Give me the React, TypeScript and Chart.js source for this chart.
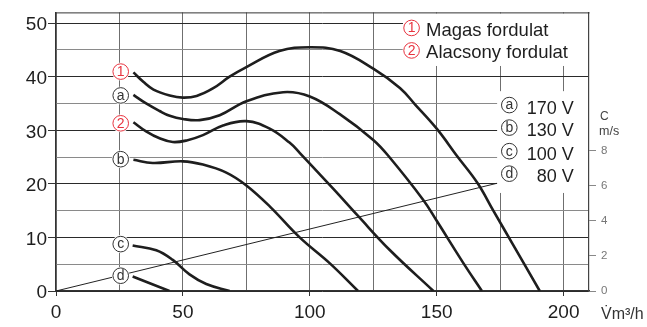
import { useEffect, useRef } from 'react';
import { Chart, registerables } from 'chart.js';

Chart.register(...registerables);

const FONT = '"Liberation Sans", Arial, Helvetica, sans-serif';

// Curve data (flow m3/h -> pressure Pa)
const curve1X = [30.5, 34.5, 38.4, 44.8, 50, 55.4, 61.8, 68.4, 75, 88, 100, 112, 125, 135.5, 141.5, 150, 158, 166, 172.3, 180, 190.6];
const curve1Y = [40.8, 39.0, 37.6, 36.5, 36.1, 36.4, 37.8, 40.0, 41.8, 44.8, 45.5, 44.8, 41.5, 37.9, 34.8, 30.3, 25.2, 20.2, 15.0, 8.7, 0];

const curveAX = [30.5, 35.5, 40.8, 44.8, 50, 56.6, 64.5, 75, 89.5, 100, 111.8, 125, 131, 144.7, 150, 160.5, 167.8];
const curveAY = [36.6, 35.0, 33.6, 32.7, 32.1, 31.9, 32.8, 35.4, 37.1, 36.3, 33.0, 28.2, 25.2, 17.0, 13.1, 5.2, 0];

const curve2X = [30.5, 35.5, 40.8, 46, 51.5, 57.9, 65.8, 75, 84.2, 92, 96, 109.2, 119, 131.6, 148.7];
const curve2Y = [31.5, 29.8, 28.5, 27.8, 28.1, 29.1, 30.9, 31.7, 30.3, 27.7, 25.8, 19.1, 14.0, 7.6, 0];

const curveBX = [30.5, 38.1, 50, 57.9, 67.1, 75, 84.2, 96, 107.8, 119];
const curveBY = [24.5, 23.9, 24.2, 23.6, 22.1, 19.7, 15.8, 10.0, 5.2, 0];

const curveCX = [30.2, 39.5, 46, 52.6, 59.2, 68.4];
const curveCY = [8.5, 7.6, 5.8, 3.1, 1.3, 0];

const curveDX = [30.2, 44.7];
const curveDY = [2.7, 0];

// Air velocity line
const velX = [0, 173.7];
const velY = [0, 20.1];

// Axis ticks
const xTicks = [0, 25, 50, 75, 100, 125, 150, 175, 200];
const yTicks = [0, 5, 10, 15, 20, 25, 30, 35, 40, 45, 50];
const cTicks = [0, 2, 4, 6, 8];

// Labels
const leftLabelText = ['1', 'a', '2', 'b', 'c', 'd'];
const leftLabelRed = [true, false, true, false, false, false];
const leftLabelY = [40.95, 36.5, 31.3, 24.6, 8.75, 2.85];
const leftLabelX = 25.5;

const rightLabelText = ['a', 'b', 'c', 'd'];
const rightLabelValue = ['170 V', '130 V', '100 V', '80 V'];
const rightLabelY = [34.7, 30.5, 26.1, 21.9];
const rightLabelX = 178.6;

const legendText = ['Magas fordulat', 'Alacsony fordulat'];
const legendNum = ['1', '2'];
const legendY = [49.1, 44.9];
const legendX = 140.1;

const RED = '#e8333f';
const INK = '#1e1e1e';

const pts = (xs: number[], ys: number[]) => xs.map((x, i) => ({ x, y: ys[i] }));

function circ(ctx: CanvasRenderingContext2D, cx: number, cy: number, t: string, color: string) {
  ctx.beginPath();
  ctx.arc(cx, cy, 9, 0, Math.PI * 2);
  ctx.fillStyle = '#fff';
  ctx.fill();
  ctx.beginPath();
  ctx.arc(cx, cy, 7.8, 0, Math.PI * 2);
  ctx.lineWidth = 1;
  ctx.strokeStyle = color;
  ctx.stroke();
  ctx.fillStyle = color;
  ctx.font = `14px ${FONT}`;
  ctx.textAlign = 'center';
  ctx.textBaseline = 'middle';
  ctx.fillText(t, cx, cy + 0.5);
}

const overlay = {
  id: 'overlay',
  beforeDatasetsDraw(chart: any) {
    const { ctx, chartArea: a, scales } = chart;
    const x = scales.x;
    const y = scales.y;
    ctx.save();
    ctx.fillStyle = '#fff';
    const lx = x.getPixelForValue(136.7);
    const ly = y.getPixelForValue(42);
    ctx.fillRect(lx, a.top + 1, a.right - 1 - lx, ly - a.top - 1);
    const rx = x.getPixelForValue(173.8);
    const rt = y.getPixelForValue(37.3);
    const rb = y.getPixelForValue(18.3);
    ctx.fillRect(rx, rt, a.right - 1 - rx, rb - rt);
    ctx.strokeStyle = '#333';
    ctx.lineWidth = 1;
    ctx.beginPath();
    ctx.moveTo(a.left, a.top + 0.5);
    ctx.lineTo(a.right + 0.5, a.top + 0.5);
    ctx.stroke();
    ctx.restore();
  },
  afterDatasetsDraw(chart: any) {
    const { ctx, scales } = chart;
    const x = scales.x;
    const y = scales.y;
    ctx.save();
    leftLabelText.forEach((t, i) => {
      circ(ctx, x.getPixelForValue(leftLabelX), y.getPixelForValue(leftLabelY[i]), t, leftLabelRed[i] ? RED : '#333');
    });
    rightLabelText.forEach((t, i) => {
      const cy = y.getPixelForValue(rightLabelY[i]);
      circ(ctx, x.getPixelForValue(rightLabelX), cy, t, '#333');
      ctx.fillStyle = INK;
      ctx.font = `18px ${FONT}`;
      ctx.textAlign = 'right';
      ctx.textBaseline = 'alphabetic';
      ctx.fillText(rightLabelValue[i], x.getPixelForValue(204), cy + 8.7);
    });
    legendText.forEach((t, i) => {
      const cy = y.getPixelForValue(legendY[i]);
      circ(ctx, x.getPixelForValue(legendX), cy, legendNum[i], RED);
      ctx.fillStyle = INK;
      ctx.font = `18.5px ${FONT}`;
      ctx.textAlign = 'left';
      ctx.textBaseline = 'alphabetic';
      ctx.fillText(t, x.getPixelForValue(145.8), cy + 7.7);
    });
    // axis titles
    ctx.fillStyle = '#333';
    ctx.textAlign = 'left';
    ctx.textBaseline = 'alphabetic';
    ctx.font = `16px ${FONT}`;
    ctx.fillText('V\u0307m\u00b3/h', 601, 318.5);
    ctx.fillStyle = '#444';
    ctx.font = `12px ${FONT}`;
    ctx.fillText('C', 600, 120);
    ctx.font = `12.5px ${FONT}`;
    ctx.fillText('m/s', 599, 135);
    ctx.restore();
  },
};

export default function App() {
  const ref = useRef<HTMLCanvasElement>(null);
  useEffect(() => {
    document.body.style.margin = '0';
    const curve = (xs: number[], ys: number[]) => ({
      data: pts(xs, ys),
      borderColor: INK,
      borderWidth: 2.6,
      pointRadius: 0,
      fill: false,
      tension: 0.4,
    });
    const chart = new Chart(ref.current as HTMLCanvasElement, {
      type: 'line',
      data: {
        datasets: [
          curve(curve1X, curve1Y),
          curve(curveAX, curveAY),
          curve(curve2X, curve2Y),
          curve(curveBX, curveBY),
          curve(curveCX, curveCY),
          curve(curveDX, curveDY),
          {
            data: pts(velX, velY),
            borderColor: '#222',
            borderWidth: 1,
            pointRadius: 0,
            fill: false,
            tension: 0,
          },
        ],
      },
      options: {
        responsive: false,
        animation: false,
        events: [],
        layout: { padding: { top: 5, left: 0, right: 0, bottom: 0 } },
        plugins: { legend: { display: false }, tooltip: { enabled: false } },
        scales: {
          x: {
            type: 'linear',
            min: 0,
            max: 210,
            afterBuildTicks: (s: any) => {
              s.ticks = xTicks.map((v) => ({ value: v }));
            },
            afterFit: (s: any) => {
              s.height = 36;
            },
            grid: {
              color: '#6f6f6f',
              lineWidth: 1,
              drawTicks: true,
              tickLength: 5,
              tickColor: (c: any) => (c.tick && c.tick.value % 50 === 0 ? '#333' : 'rgba(0,0,0,0)'),
            },
            border: { display: true, color: '#333', width: 1.2 },
            ticks: {
              autoSkip: false,
              maxRotation: 0,
              padding: 5,
              color: INK,
              font: { family: FONT, size: 19 },
              callback: (v: any) => (Number(v) % 50 === 0 ? String(v) : ''),
            },
          },
          y: {
            type: 'linear',
            min: 0,
            max: 52,
            afterBuildTicks: (s: any) => {
              s.ticks = yTicks.map((v) => ({ value: v }));
            },
            afterFit: (s: any) => {
              s.width = 56;
            },
            grid: {
              color: (c: any) => (c.tick && c.tick.value % 10 === 0 ? '#2a2a2a' : '#8a8a8a'),
              lineWidth: 1,
              drawTicks: true,
              tickLength: 8,
              tickColor: (c: any) => (c.tick && c.tick.value % 10 === 0 ? '#333' : 'rgba(0,0,0,0)'),
            },
            border: { display: true, color: '#333', width: 1.2 },
            ticks: {
              autoSkip: false,
              padding: 1,
              labelOffset: 2,
              color: INK,
              font: { family: FONT, size: 19 },
              callback: (v: any) => (Number(v) % 10 === 0 ? String(v) : ''),
            },
          },
          c: {
            type: 'linear',
            position: 'right',
            min: 0,
            max: 15.9,
            afterBuildTicks: (s: any) => {
              s.ticks = cTicks.map((v) => ({ value: v }));
            },
            afterFit: (s: any) => {
              s.width = 58;
            },
            grid: {
              drawOnChartArea: false,
              drawTicks: true,
              tickLength: 7,
              tickColor: '#888',
            },
            border: { display: true, color: '#444', width: 1.2 },
            ticks: {
              padding: 5,
              color: '#777',
              font: { family: FONT, size: 11.5 },
            },
          },
        },
      } as any,
      plugins: [overlay],
    });
    return () => chart.destroy();
  }, []);
  return (
    <div style={{ position: 'absolute', left: 0, top: 0, width: 647, height: 327, background: '#fff' }}>
      <canvas ref={ref} width={647} height={327} style={{ width: 647, height: 327, display: 'block' }} />
    </div>
  );
}
